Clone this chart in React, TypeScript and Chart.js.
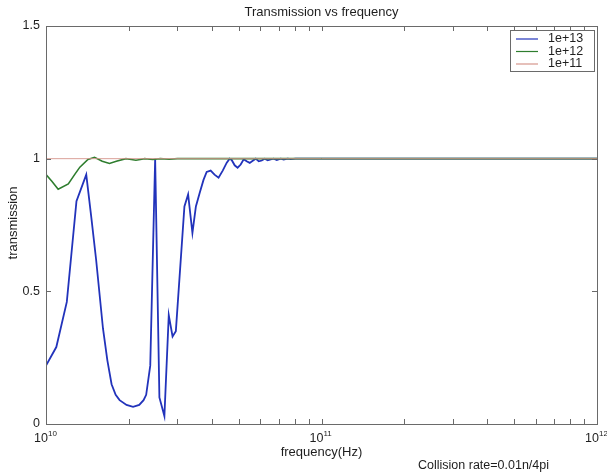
import React, { useEffect, useRef } from "react";
import { Chart, registerables } from "chart.js";

Chart.register(...registerables);

// ---- data ----
const seriesLabels = ["1e+13", "1e+12", "1e+11"];
const seriesColors = ["#2233bb", "#2e7d2e", "#d6968c"];

const freqA = [
  1.0e10, 1.09e10, 1.19e10, 1.29e10, 1.4e10, 1.46e10, 1.52e10, 1.61e10, 1.67e10, 1.73e10,
  1.79e10, 1.85e10, 1.96e10, 2.07e10, 2.18e10, 2.26e10, 2.31e10, 2.39e10, 2.49e10, 2.58e10,
  2.69e10, 2.79e10, 2.88e10, 2.96e10, 3.18e10, 3.28e10, 3.4e10, 3.5e10, 3.61e10, 3.73e10,
  3.83e10, 3.96e10, 4.09e10, 4.23e10, 4.38e10, 4.53e10, 4.64e10, 4.72e10, 4.84e10, 4.96e10,
  5.09e10, 5.22e10, 5.35e10, 5.49e10, 5.63e10, 5.77e10, 5.92e10, 6.07e10, 6.22e10, 6.38e10,
  6.54e10, 6.71e10, 6.88e10, 7.11e10, 7.29e10, 7.54e10, 7.73e10, 8.06e10, 1.0e12,
];
const transA = [
  0.22, 0.29, 0.46, 0.84, 0.94, 0.78, 0.62, 0.36, 0.24, 0.15,
  0.11, 0.09, 0.072, 0.065, 0.072, 0.09, 0.11, 0.22, 1.0, 0.1,
  0.03, 0.41, 0.33, 0.35, 0.82, 0.865, 0.72, 0.82, 0.87, 0.92,
  0.95, 0.955, 0.94, 0.928, 0.955, 0.985, 1.0, 0.995, 0.975, 0.966,
  0.978, 0.998, 0.99, 0.984, 0.992, 1.0, 0.99, 0.993, 1.0, 0.994,
  0.997, 1.0, 0.995, 1.0, 0.997, 1.0, 0.998, 1.0, 1.0,
];

const freqB = [
  1.0e10, 1.05e10, 1.107e10, 1.205e10, 1.27e10, 1.327e10, 1.42e10, 1.5e10, 1.6e10, 1.7e10,
  1.8e10, 1.95e10, 2.04e10, 2.12e10, 2.2e10, 2.28e10, 2.44e10, 2.6e10, 2.8e10, 3.0e10,
  1.0e12,
];
const transB = [
  0.94, 0.915, 0.885, 0.905, 0.94, 0.968, 0.997, 1.005, 0.99, 0.982,
  0.99, 1.0, 0.997, 0.994, 0.997, 1.0, 0.997, 1.0, 0.998, 1.0,
  1.0,
];

const freqC = [1.0e10, 1.0e12];
const transC = [1.0, 1.0];

const yTicks = [0, 0.5, 1, 1.5];
const yTickLabels = ["0", "0.5", "1", "1.5"];
const decades = [10, 11, 12];

const titleText = "Transmission vs frequency";
const xTitle = "frequency(Hz)";
const yTitle = "transmission";
const noteText = "Collision rate=0.01n/4pi";

const FONT = "'Liberation Sans', Arial, sans-serif";
const AXIS_COLOR = "#6a6a6a";
const TEXT_COLOR = "#1e1e1e";

const toPoints = (xs: number[], ys: number[]) => xs.map((x, i) => ({ x, y: ys[i] }));

// MATLAB-style boxed axes, inward ticks, superscript decade labels and legend box
const framePlugin = {
  id: "matlabFrame",
  afterDraw(chart: any) {
    const { ctx, chartArea: a, scales } = chart;
    const xs = scales.x;
    const ys = scales.y;
    ctx.save();
    ctx.strokeStyle = AXIS_COLOR;
    ctx.lineWidth = 1;
    ctx.strokeRect(Math.round(a.left) + 0.5, Math.round(a.top) + 0.5, Math.round(a.right - a.left), Math.round(a.bottom - a.top));

    // x ticks (major + minor), inward on bottom and top
    ctx.beginPath();
    for (let d = 10; d < 12; d++) {
      for (let m = 1; m <= 9; m++) {
        const px = Math.round(xs.getPixelForValue(m * Math.pow(10, d))) + 0.5;
        ctx.moveTo(px, a.bottom);
        ctx.lineTo(px, a.bottom - 5);
        ctx.moveTo(px, a.top);
        ctx.lineTo(px, a.top + 5);
      }
    }
    // y ticks, inward on left and right
    yTicks.forEach((v) => {
      const py = Math.round(ys.getPixelForValue(v)) + 0.5;
      ctx.moveTo(a.left, py);
      ctx.lineTo(a.left + 5, py);
      ctx.moveTo(a.right, py);
      ctx.lineTo(a.right - 5, py);
    });
    ctx.stroke();

    ctx.fillStyle = TEXT_COLOR;
    ctx.font = `12.5px ${FONT}`;
    ctx.textBaseline = "middle";
    ctx.textAlign = "right";
    yTicks.forEach((v, i) => {
      ctx.fillText(yTickLabels[i], a.left - 6, ys.getPixelForValue(v));
    });

    // decade labels: "10" with superscript exponent
    decades.forEach((e) => {
      const px = xs.getPixelForValue(Math.pow(10, e));
      ctx.font = `12.5px ${FONT}`;
      ctx.textAlign = "right";
      ctx.fillText("10", px + 2, a.bottom + 15);
      ctx.font = `8px ${FONT}`;
      ctx.textAlign = "left";
      ctx.fillText(String(e), px + 2, a.bottom + 10);
    });

    // titles
    ctx.font = `13px ${FONT}`;
    ctx.textAlign = "center";
    const cx = (a.left + a.right) / 2;
    ctx.fillText(titleText, cx, 12);
    ctx.fillText(xTitle, cx, a.bottom + 28);
    ctx.font = `12.5px ${FONT}`;
    ctx.textAlign = "left";
    ctx.fillText(noteText, 418, 466);

    ctx.save();
    ctx.translate(13, 223);
    ctx.rotate(-Math.PI / 2);
    ctx.textAlign = "center";
    ctx.font = `13px ${FONT}`;
    ctx.fillText(yTitle, 0, 0);
    ctx.restore();

    // legend
    const lx = 510, ly = 30, lw = 84, lh = 41;
    ctx.fillStyle = "#ffffff";
    ctx.fillRect(lx, ly, lw, lh);
    ctx.strokeStyle = AXIS_COLOR;
    ctx.strokeRect(lx + 0.5, ly + 0.5, lw, lh);
    seriesLabels.forEach((lab, i) => {
      const ry = ly + 9 + i * 12.5;
      ctx.strokeStyle = seriesColors[i];
      ctx.lineWidth = 1.2;
      ctx.beginPath();
      ctx.moveTo(lx + 6, ry);
      ctx.lineTo(lx + 28, ry);
      ctx.stroke();
      ctx.fillStyle = TEXT_COLOR;
      ctx.font = `12.5px ${FONT}`;
      ctx.textAlign = "left";
      ctx.fillText(lab, lx + 38, ry);
    });
    ctx.restore();
  },
};

export default function App() {
  const canvasRef = useRef<HTMLCanvasElement | null>(null);

  useEffect(() => {
    if (!canvasRef.current) return;
    const chart = new Chart(canvasRef.current, {
      type: "line",
      data: {
        datasets: [
          {
            label: seriesLabels[0],
            data: toPoints(freqA, transA),
            borderColor: seriesColors[0],
            borderWidth: 1.8,
            pointRadius: 0,
            tension: 0,
            order: 3,
          },
          {
            label: seriesLabels[1],
            data: toPoints(freqB, transB),
            borderColor: seriesColors[1],
            borderWidth: 1.6,
            pointRadius: 0,
            tension: 0,
            order: 2,
          },
          {
            label: seriesLabels[2],
            data: toPoints(freqC, transC),
            borderColor: seriesColors[2],
            borderWidth: 0.9,
            pointRadius: 0,
            order: 1,
          },
        ],
      },
      options: {
        responsive: false,
        animation: false,
        devicePixelRatio: 1,
        layout: { padding: { left: 46, right: 10, top: 26, bottom: 49 } },
        plugins: { legend: { display: false }, tooltip: { enabled: false }, title: { display: false } },
        scales: {
          x: { type: "logarithmic", min: 1e10, max: 1e12, display: false },
          y: { type: "linear", min: 0, max: 1.5, display: false },
        },
      },
      plugins: [framePlugin],
    } as any);
    return () => chart.destroy();
  }, []);

  return (
    <div style={{ position: "absolute", left: 0, top: 0, width: 607, height: 473, background: "#fff" }}>
      <canvas ref={canvasRef} width={607} height={473} />
    </div>
  );
}
